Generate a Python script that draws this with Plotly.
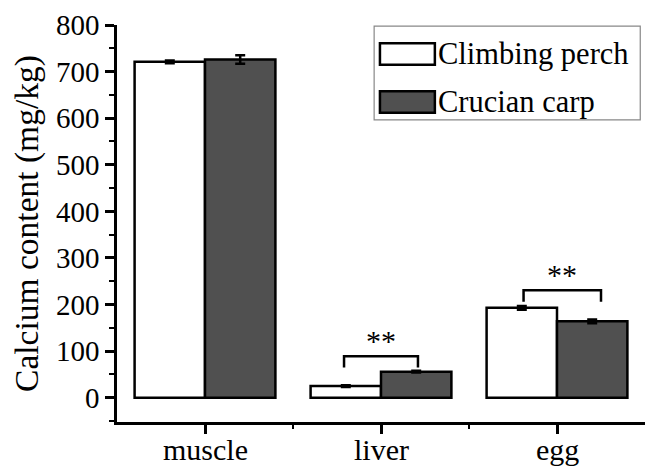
import plotly.graph_objects as go

categories = ["muscle", "liver", "egg"]
cat_pos = [0, 1, 2]
perch_vals = [721, 25, 193]
perch_err = [3, 2, 4]
carp_vals = [726, 56, 164]
carp_err = [9, 2, 4]
series_names = ["Climbing perch", "Crucian carp"]

# significance brackets (data units): x-left, x-right, y-top, y-end, label y
sig_x0 = [0.79, 1.81]
sig_x1 = [1.21, 2.25]
sig_ytop = [89, 231]
sig_yend = [65, 206]
sig_label_y = [123, 265]
sig_text = ["**", "**"]

FONT = "Liberation Serif"
DARK = "#505050"

fig = go.Figure()
fig.add_trace(go.Bar(
    x=cat_pos, y=perch_vals, name=series_names[0], offsetgroup="a",
    marker=dict(color="white", line=dict(color="black", width=2.5)),
    error_y=dict(type="data", array=perch_err, color="black", thickness=2.5, width=5),
    showlegend=False,
))
fig.add_trace(go.Bar(
    x=cat_pos, y=carp_vals, name=series_names[1], offsetgroup="b",
    marker=dict(color=DARK, line=dict(color="black", width=2.5)),
    error_y=dict(type="data", array=carp_err, color="black", thickness=2.5, width=5),
    showlegend=False,
))

for i in range(len(sig_x0)):
    fig.add_trace(go.Scatter(
        x=[sig_x0[i], sig_x0[i], sig_x1[i], sig_x1[i]],
        y=[sig_yend[i], sig_ytop[i], sig_ytop[i], sig_yend[i]],
        mode="lines", line=dict(color="black", width=2.5),
        showlegend=False, hoverinfo="skip",
    ))
    fig.add_annotation(
        x=(sig_x0[i] + sig_x1[i]) / 2, y=sig_label_y[i], text=sig_text[i],
        showarrow=False, font=dict(family=FONT, size=30, color="black"),
    )

# category labels placed under the axis (x in data units)
for pos, name in zip(cat_pos, categories):
    fig.add_annotation(x=pos, xref="x", y=-0.0705, yref="paper", yanchor="middle",
                       text=name, showarrow=False,
                       font=dict(family=FONT, size=30, color="black"))

# custom legend (paper coordinates = plot area)
fig.add_shape(type="rect", xref="paper", yref="paper",
              x0=0.487, x1=0.991, y0=0.761, y1=0.997,
              line=dict(color="#888888", width=1.2), fillcolor="white")
legend_fill = ["white", DARK]
legend_y = [0.927, 0.806]
for i, name in enumerate(series_names):
    fig.add_shape(type="rect", xref="paper", yref="paper",
                  x0=0.498, x1=0.602, y0=legend_y[i] - 0.027, y1=legend_y[i] + 0.027,
                  line=dict(color="black", width=2.5), fillcolor=legend_fill[i])
    fig.add_annotation(xref="paper", yref="paper", x=0.604, y=legend_y[i],
                       xanchor="left", yanchor="middle", text=name, showarrow=False,
                       font=dict(family=FONT, size=30.5, color="black"))

fig.update_layout(
    width=648, height=467,
    margin=dict(l=117, r=3, t=25, b=45, autoexpand=False),
    paper_bgcolor="white", plot_bgcolor="white",
    barmode="group", bargap=0.2, bargroupgap=0,
    font=dict(family=FONT, size=29, color="black"),
    xaxis=dict(
        range=[-0.5, 2.5], tickmode="array", tickvals=cat_pos, showticklabels=False,
        showline=True, linecolor="black", linewidth=2.5, mirror=False,
        ticks="outside", ticklen=9, tickwidth=2.5, tickcolor="black",
        minor=dict(tickmode="array", tickvals=[0.5, 1.5], ticks="outside", ticklen=4, tickwidth=2, tickcolor="black"),
        showgrid=False, zeroline=False, fixedrange=True, automargin=False,
    ),
    yaxis=dict(
        range=[-52, 800], tickmode="array", tickvals=[0, 100, 200, 300, 400, 500, 600, 700, 800],
        showline=True, linecolor="black", linewidth=2.5,
        ticks="outside", ticklen=9, tickwidth=2.5, tickcolor="black",
        minor=dict(tickmode="array", tickvals=[-50, 50, 150, 250, 350, 450, 550, 650, 750],
                   ticks="outside", ticklen=5, tickwidth=2, tickcolor="black"),
        showgrid=False, zeroline=False, automargin=False,
        title=dict(text="Calcium content (mg/kg)", font=dict(family=FONT, size=33.5), standoff=8),
        tickfont=dict(family=FONT, size=29),
    ),
)

fig.write_html(
    "out.html",
    config={"displayModeBar": False},
    post_script="document.body.style.margin='0';document.body.style.padding='0';document.body.style.overflow='hidden';",
)
